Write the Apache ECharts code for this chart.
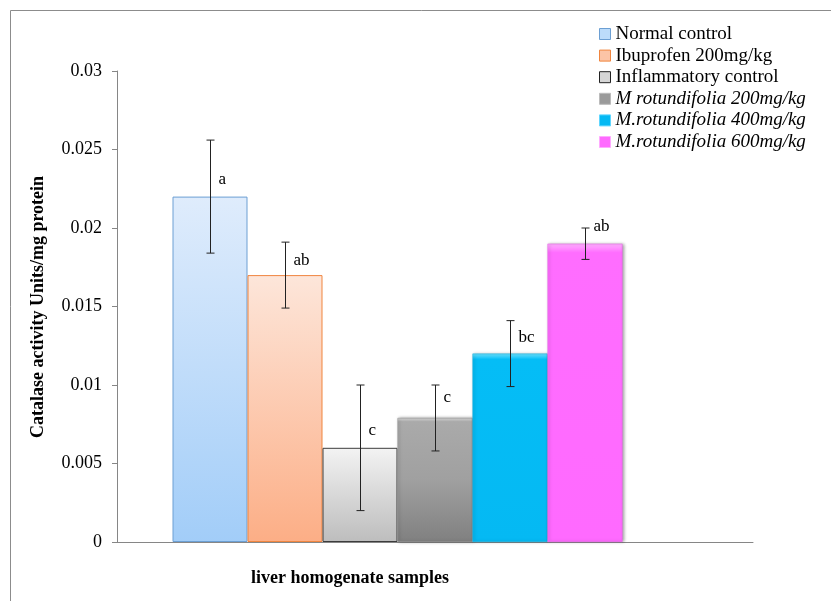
<!DOCTYPE html>
<html>
<head>
<meta charset="utf-8">
<script src="https://cdn.jsdelivr.net/npm/echarts@6/dist/echarts.min.js"></script>
<style>html,body{margin:0;padding:0;background:#fff}#c{width:831px;height:601px}</style>
</head>
<body>
<div id="c"></div>
<script>
// ---- data ----
const seriesNames = ['Normal control','Ibuprofen 200mg/kg','Inflammatory control','M rotundifolia 200mg/kg','M.rotundifolia 400mg/kg','M.rotundifolia 600mg/kg'];
const values = [0.022, 0.017, 0.006, 0.0079, 0.012, 0.019];
const errors = [0.0036, 0.0021, 0.004, 0.0021, 0.0021, 0.001];
const letters = ['a','ab','c','c','bc','ab'];
const letterAt = [0.0231, 0.0179, 0.0071, 0.0092, 0.0130, 0.0201];
const yTicks = [0, 0.005, 0.01, 0.015, 0.02, 0.025, 0.03];
const xTitle = 'liver homogenate samples';
const yTitle = 'Catalase activity Units/mg protein';

// ---- styles ----
const FONT = '"Liberation Serif", "Times New Roman", serif';
const BW = 75;
const NSLOTS = 7;
function lg(stops){return new echarts.graphic.LinearGradient(0,0,0,1,stops.map((c)=>({offset:c[0],color:c[1]})));}
const styles = [
  {color: lg([[0,'#dfecfc'],[1,'#a2cdf8']]), borderColor:'#6c9fd3', borderWidth:1},
  {color: lg([[0,'#fde6da'],[1,'#fcae86']]), borderColor:'#f0853f', borderWidth:1},
  {color: lg([[0,'#f3f3f3'],[1,'#bdbdbd']]), borderColor:'#3c3c3c', borderWidth:1},
  {color: lg([[0,'#dcdcdc'],[0.03,'#aaaaaa'],[0.5,'#a0a0a0'],[1,'#808080']]), borderColor:'#8a8a8a', borderWidth:0.5, shadowBlur:3, shadowColor:'rgba(0,0,0,0.35)', shadowOffsetX:1.5},
  {color: lg([[0,'#6fe4ff'],[0.03,'#05bdf6'],[1,'#05b9f3']]), borderColor:'#08a8dc', borderWidth:0.5, shadowBlur:3, shadowColor:'rgba(0,0,0,0.35)', shadowOffsetX:1.5},
  {color: lg([[0,'#ffb0ff'],[0.03,'#ff6dff'],[1,'#ff6aff']]), borderColor:'#e65ce6', borderWidth:0.5, shadowBlur:3, shadowColor:'rgba(0,0,0,0.35)', shadowOffsetX:1.5}
];
const legendIcon = [
  {color:'#bcdcfb', borderColor:'#6c9fd3', borderWidth:1},
  {color:'#fcc4a6', borderColor:'#f0853f', borderWidth:1},
  {color:'#d6d6d6', borderColor:'#222', borderWidth:1},
  {color:'#9a9a9a', borderColor:'#bbb', borderWidth:1},
  {color:'#05b9f3', borderColor:'#5fd6ff', borderWidth:1},
  {color:'#ff6aff', borderColor:'#ffaaff', borderWidth:1}
];

const chart = echarts.init(document.getElementById('c'), null, {renderer:'canvas'});

const barSeries = seriesNames.map((n,i)=>({
  name:n, type:'bar', barWidth:BW, barGap:'0%',
  data:[values[i]], itemStyle:styles[i], emphasis:{disabled:true}, z:2
}));
// empty placeholder slot (as in source chart)
barSeries.push({name:'_empty', type:'bar', barWidth:BW, barGap:'0%', data:[null]});

const errData = values.map((v,i)=>[0, v-errors[i], v+errors[i], i, letterAt[i]]);

const option = {
  animation:false,
  backgroundColor:'#fff',
  grid:{left:117, right:78, top:71, bottom:59},
  xAxis:{type:'category', data:[''], axisLine:{lineStyle:{color:'#868686', width:1}}, axisTick:{show:false}, axisLabel:{show:false}, splitLine:{show:false}},
  yAxis:{type:'value', min:yTicks[0], max:yTicks[yTicks.length-1], interval:yTicks[1]-yTicks[0],
    axisLine:{show:true, lineStyle:{color:'#868686', width:1}},
    axisTick:{show:true, length:5, lineStyle:{color:'#868686'}},
    splitLine:{show:false},
    axisLabel:{margin:15, color:'#000', fontFamily:FONT, fontSize:18, formatter:v=>String(+v.toFixed(3))}},
  legend:{
    orient:'vertical', left:594, top:19, itemWidth:11, itemHeight:11, itemGap:1.6, icon:'rect',
    textStyle:{fontFamily:FONT, fontSize:19, lineHeight:20, color:'#000'},
    selectedMode:false,
    data:seriesNames.map((n,i)=>({name:n, itemStyle:legendIcon[i], textStyle: i>=3?{fontStyle:'italic'}:{} }))
  },
  series: barSeries.concat([{
    type:'custom', z:5, silent:true,
    data: errData,
    renderItem:(params, api)=>{
      const idx = api.value(3);
      const top = api.coord([0, api.value(2)]);
      const bot = api.coord([0, api.value(1)]);
      const lab = api.coord([0, api.value(4)]);
      const x = Math.round(top[0] + (idx - (NSLOTS-1)/2) * BW) + 0.5;
      const ls = {stroke:'#222', lineWidth:1};
      return {type:'group', children:[
        {type:'line', shape:{x1:x, y1:top[1], x2:x, y2:bot[1]}, style:ls},
        {type:'line', shape:{x1:x-4, y1:top[1], x2:x+4, y2:top[1]}, style:ls},
        {type:'line', shape:{x1:x-4, y1:bot[1], x2:x+4, y2:bot[1]}, style:ls},
        {type:'text', x:x+8, y:lab[1], style:{text:letters[idx], fill:'#000', font:'17px '+FONT, textAlign:'left', textVerticalAlign:'middle'}}
      ]};
    }
  }]),
  graphic:[
    {type:'rect', shape:{x:10.5, y:10.5, width:1000, height:1000}, style:{fill:'none', stroke:'#8c8c8c', lineWidth:1}, silent:true, z:-1},
    {type:'text', x:350, y:578, style:{text:xTitle, font:'bold 18px '+FONT, fill:'#000', textAlign:'center', textVerticalAlign:'middle'}},
    {type:'text', x:38, y:307, rotation:Math.PI/2, style:{text:yTitle, font:'bold 18px '+FONT, fill:'#000', textAlign:'center', textVerticalAlign:'middle'}}
  ]
};
chart.setOption(option);
</script>
</body>
</html>
